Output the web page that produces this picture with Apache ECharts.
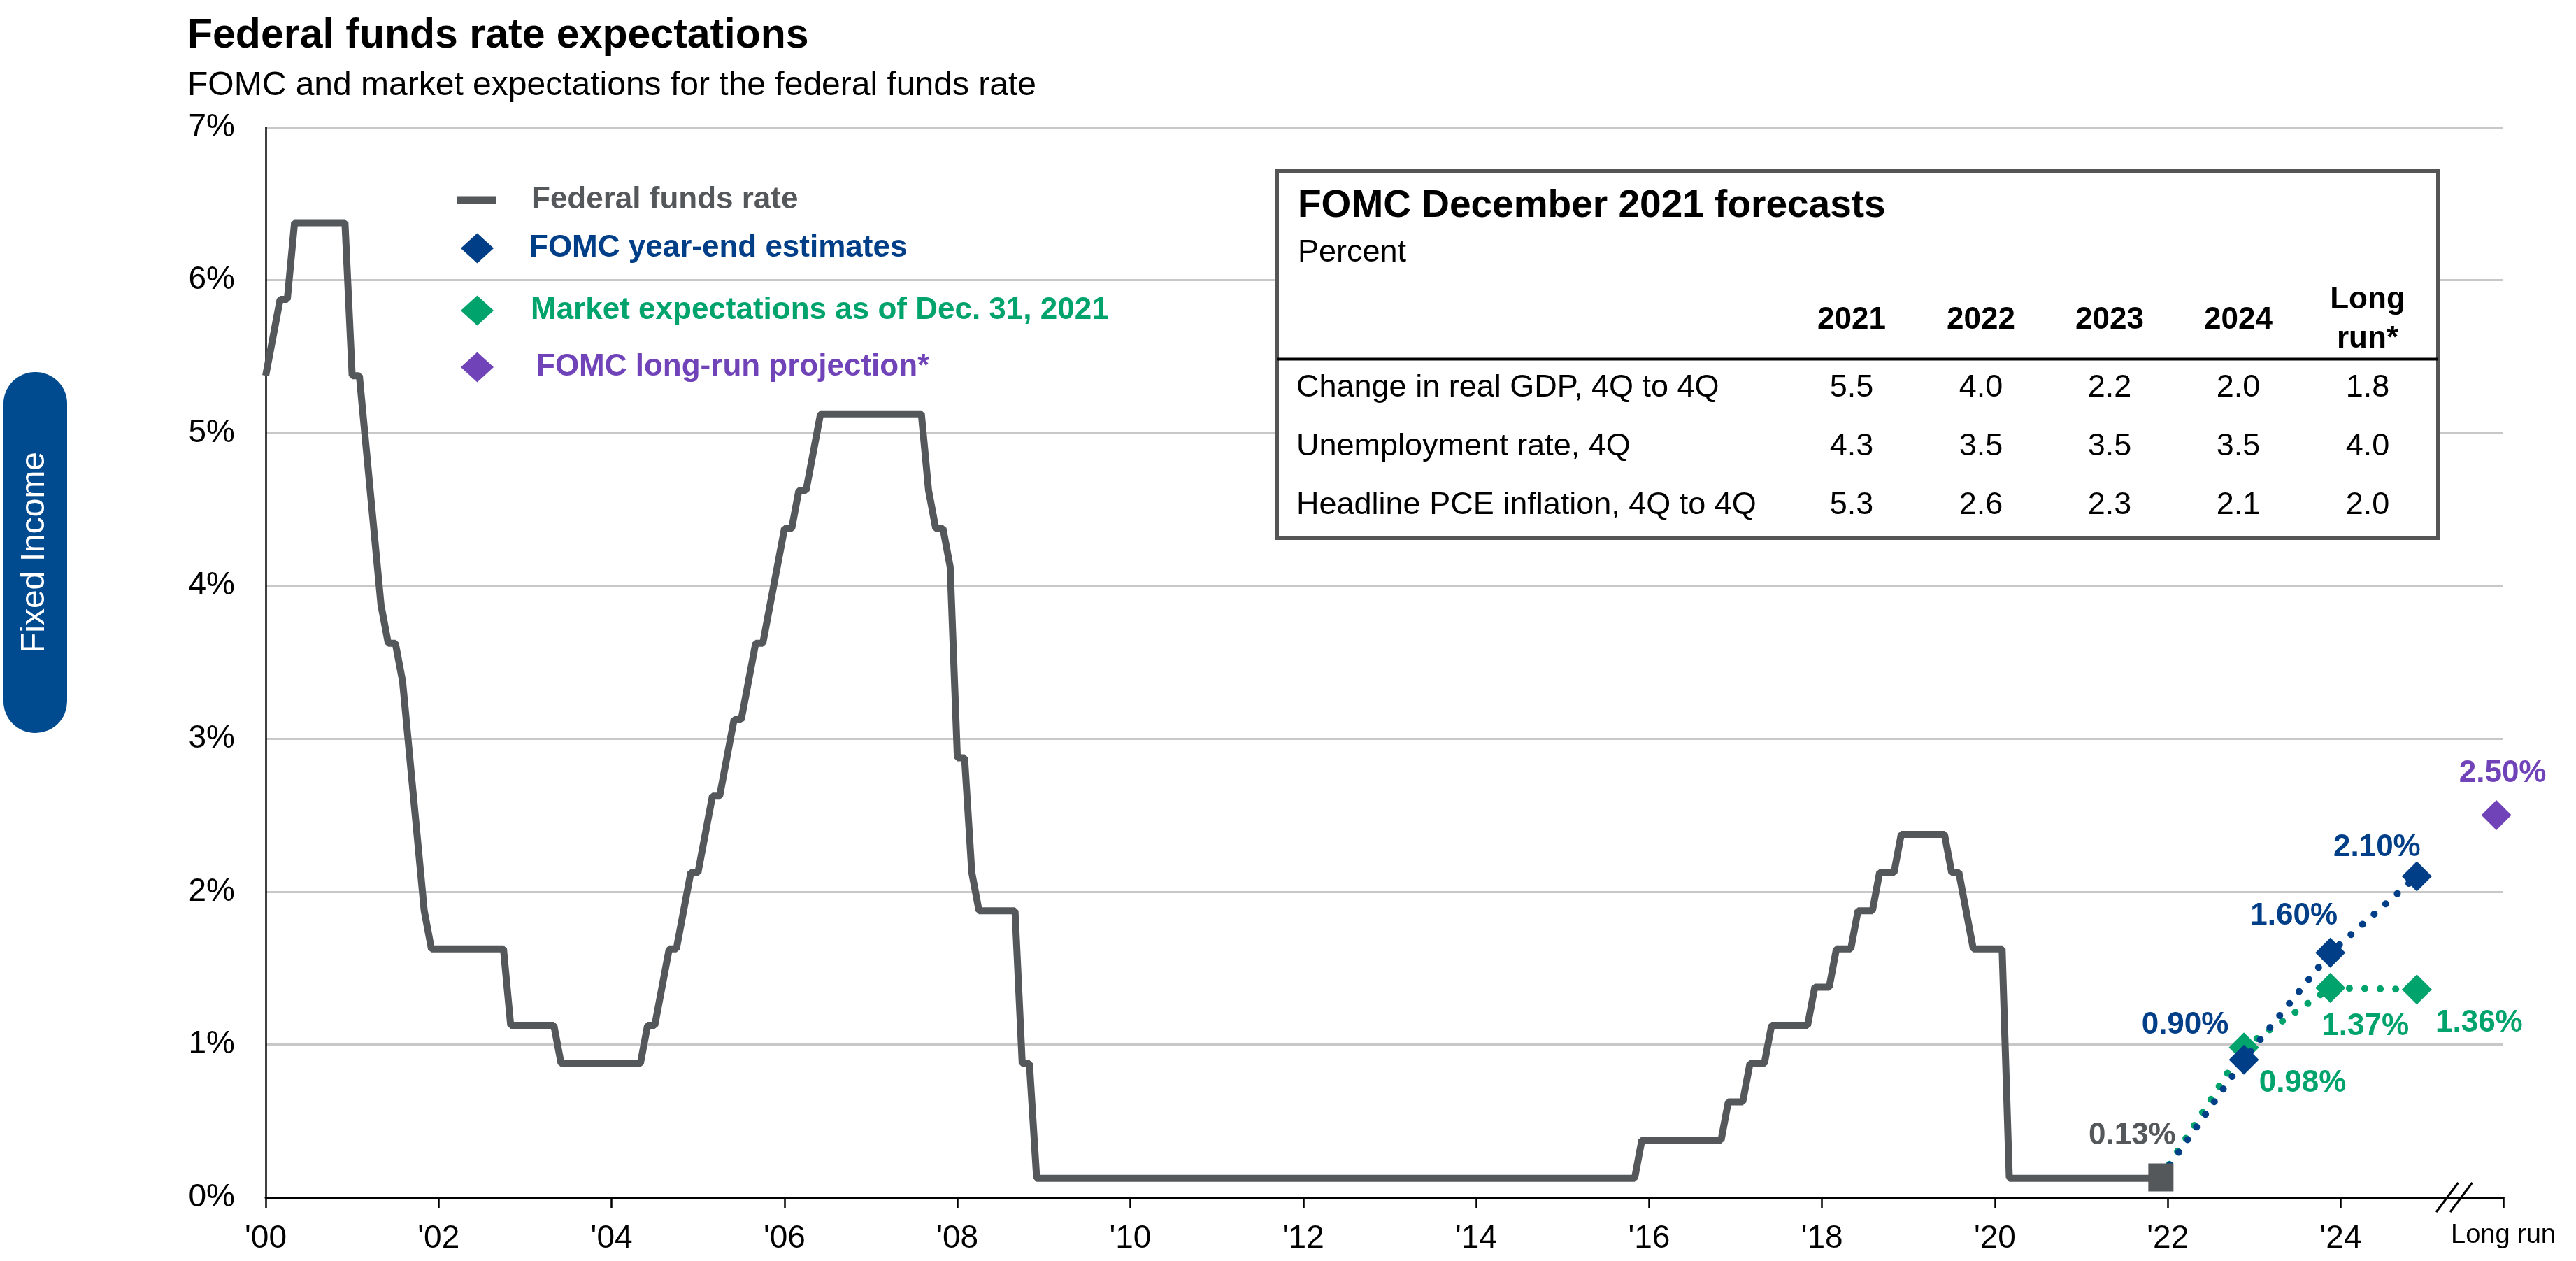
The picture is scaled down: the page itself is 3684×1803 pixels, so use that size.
<!DOCTYPE html>
<html>
<head>
<meta charset="utf-8">
<script src="https://cdn.jsdelivr.net/npm/echarts@6/dist/echarts.min.js"></script>
<style>
html,body{margin:0;padding:0;background:#ffffff;}
#chart{width:3684px;height:1803px;}
</style>
</head>
<body>
<div id="chart"></div>
<script>
// ---------------- DATA ----------------
// Federal funds rate (monthly, vertices of the path where the level changes)
const fedFundsDates = [
  '2000-01','2000-02','2000-03','2000-04','2000-05','2000-12',
  '2001-01','2001-02','2001-03','2001-04','2001-05','2001-06','2001-07','2001-08','2001-09','2001-10','2001-11','2001-12',
  '2002-10','2002-11',
  '2003-05','2003-06',
  '2004-05','2004-06','2004-07','2004-08','2004-09','2004-10','2004-11','2004-12',
  '2005-01','2005-02','2005-03','2005-04','2005-05','2005-06','2005-07','2005-08','2005-09','2005-10','2005-11','2005-12',
  '2006-01','2006-02','2006-03','2006-04','2006-05','2006-06',
  '2007-08','2007-09','2007-10','2007-11','2007-12',
  '2008-01','2008-02','2008-03','2008-04','2008-09','2008-10','2008-11','2008-12',
  '2015-11','2015-12',
  '2016-11','2016-12',
  '2017-02','2017-03','2017-05','2017-06','2017-11','2017-12',
  '2018-02','2018-03','2018-05','2018-06','2018-08','2018-09','2018-11','2018-12',
  '2019-06','2019-07','2019-08','2019-09','2019-10',
  '2020-02','2020-03',
  '2021-12'
];
const fedFundsValues = [
  5.375,5.625,5.875,5.875,6.375,6.375,
  5.375,5.375,4.875,4.375,3.875,3.625,3.625,3.375,2.875,2.375,1.875,1.625,
  1.625,1.125,
  1.125,0.875,
  0.875,1.125,1.125,1.375,1.625,1.625,1.875,2.125,
  2.125,2.375,2.625,2.625,2.875,3.125,3.125,3.375,3.625,3.625,3.875,4.125,
  4.375,4.375,4.625,4.625,4.875,5.125,
  5.125,4.625,4.375,4.375,4.125,
  2.875,2.875,2.125,1.875,1.875,0.875,0.875,0.125,
  0.125,0.375,
  0.375,0.625,
  0.625,0.875,0.875,1.125,1.125,1.375,
  1.375,1.625,1.625,1.875,1.875,2.125,2.125,2.375,
  2.375,2.125,2.125,1.875,1.625,
  1.625,0.125,
  0.125
];
// Latest federal funds rate (Dec. 2021)
const latestX = 2021.92;
const latestRate = 0.13;
// Year-end forecast positions (Dec. 2022, 2023, 2024)
const forecastX = [2022.88, 2023.88, 2024.88];
const fomcEstimates = [0.90, 1.60, 2.10];
const marketExpectations = [0.98, 1.37, 1.36];
// Long run
const longRunX = 2025.8;
const longRunProjection = 2.50;
// Axis ticks
const xTickYears = [2000,2002,2004,2006,2008,2010,2012,2014,2016,2018,2020,2022,2024];
const longRunTick = 2025.88;
const longRunLabel = 'Long run';
const xBreakAt = 2025.31;
const yMin = 0, yMax = 7, yStep = 1;
// Table
const tableTitle = 'FOMC December 2021 forecasts';
const tableUnit = 'Percent';
const tableColumns = ['2021','2022','2023','2024','Long|run*'];
const tableRowLabels = ['Change in real GDP, 4Q to 4Q','Unemployment rate, 4Q','Headline PCE inflation, 4Q to 4Q'];
const tableValues = [
  [5.5, 4.0, 2.2, 2.0, 1.8],
  [4.3, 3.5, 3.5, 3.5, 4.0],
  [5.3, 2.6, 2.3, 2.1, 2.0]
];
const names = {
  ffr: 'Federal funds rate',
  fomc: 'FOMC year-end estimates',
  market: 'Market expectations as of Dec. 31, 2021',
  longRun: 'FOMC long-run projection*'
};
const sideTab = 'Fixed Income';

// ---------------- STYLE ----------------
const FONT = '"Liberation Sans", Arial, Helvetica, sans-serif';
const C = {
  gray: '#55585b', blue: '#003f87', green: '#00a36c', purple: '#7043b8',
  tab: '#004a8f', grid: '#c8c8c8', black: '#000000', border: '#555555'
};
function toX(d) { const p = d.split('-'); return +p[0] + (+p[1] - 1) / 12; }
const pct = v => v.toFixed(2) + '%';

const fomcOffsets = [[-84, -49], [-52, -52], [-57, -41]];
const marketOffsets = [[84, 51], [50, 55], [89, 48]];

function forecastData(vals, offsets) {
  const arr = [{ value: [latestX, latestRate], symbol: 'none', label: { show: false } }];
  vals.forEach((v, i) => arr.push({ value: [forecastX[i], v], label: { show: true, offset: offsets[i] } }));
  return arr;
}
const labelBase = { fontFamily: FONT, fontSize: 44, fontWeight: 'bold', position: 'inside' };

const chart = echarts.init(document.getElementById('chart'), null, { renderer: 'canvas' });

// table graphics
const tX0 = 1826, tY0 = 244, tW = 1661, tH = 525;
const colX = [2648, 2833, 3017, 3201, 3386];
const rowBase = [570, 654, 738];
const mid = (b, s) => b - 0.35 * s;
const g = [];
g.push({ type: 'rect', id: 'tabRect', shape: { x: 5, y: 532, width: 91, height: 516, r: 45 }, style: { fill: C.tab }, z: 10 });
g.push({ type: 'text', id: 'tabText', x: 50, y: 790, rotation: Math.PI / 2,
  style: { text: sideTab, fill: '#ffffff', font: '48px ' + FONT, align: 'center', verticalAlign: 'middle' }, z: 11 });
g.push({ type: 'rect', id: 'tblBox', shape: { x: tX0, y: tY0, width: tW, height: tH }, style: { fill: '#ffffff', stroke: C.border, lineWidth: 6 }, z: 10 });
g.push({ type: 'text', id: 'tblTitle', x: 1856, y: mid(314, 55), style: { text: tableTitle, fill: C.black, font: 'bold 55px ' + FONT, align: 'left', verticalAlign: 'middle' }, z: 11 });
g.push({ type: 'text', id: 'tblUnit', x: 1856, y: mid(377, 45), style: { text: tableUnit, fill: C.black, font: '45px ' + FONT, align: 'left', verticalAlign: 'middle' }, z: 11 });
tableColumns.forEach((c, i) => {
  const parts = c.split('|');
  if (parts.length === 1) {
    g.push({ type: 'text', id: 'col' + i, x: colX[i], y: mid(473, 44), style: { text: parts[0], fill: C.black, font: 'bold 44px ' + FONT, align: 'center', verticalAlign: 'middle' }, z: 11 });
  } else {
    g.push({ type: 'text', id: 'col' + i + 'a', x: colX[i], y: mid(444, 44), style: { text: parts[0], fill: C.black, font: 'bold 44px ' + FONT, align: 'center', verticalAlign: 'middle' }, z: 11 });
    g.push({ type: 'text', id: 'col' + i + 'b', x: colX[i], y: mid(500, 44), style: { text: parts[1], fill: C.black, font: 'bold 44px ' + FONT, align: 'center', verticalAlign: 'middle' }, z: 11 });
  }
});
g.push({ type: 'line', id: 'tblSep', shape: { x1: tX0, y1: 513.5, x2: tX0 + tW, y2: 513.5 }, style: { stroke: C.black, lineWidth: 4 }, z: 11 });
tableRowLabels.forEach((r, ri) => {
  g.push({ type: 'text', id: 'row' + ri, x: 1854, y: mid(rowBase[ri], 45), style: { text: r, fill: C.black, font: '45px ' + FONT, align: 'left', verticalAlign: 'middle' }, z: 11 });
  tableValues[ri].forEach((v, ci) => {
    g.push({ type: 'text', id: 'v' + ri + '_' + ci, x: colX[ci], y: mid(rowBase[ri], 45), style: { text: v.toFixed(1), fill: C.black, font: '45px ' + FONT, align: 'center', verticalAlign: 'middle' }, z: 11 });
  });
});

function legendOf(name, color, icon, left, top, w, h, pad) {
  return {
    data: [{ name: name, icon: icon }],
    left: left, top: top, padding: 0, orient: 'vertical',
    itemWidth: w, itemHeight: h, selectedMode: false,
    itemStyle: { borderWidth: 0, opacity: 1 },
    textStyle: { color: color, fontFamily: FONT, fontSize: 44, fontWeight: 'bold', padding: [0, 0, 0, pad] }
  };
}

const option = {
  animation: false,
  backgroundColor: '#ffffff',
  title: {
    text: 'Federal funds rate expectations',
    subtext: 'FOMC and market expectations for the federal funds rate',
    left: 268, top: 22, padding: 0, itemGap: 18,
    textStyle: { fontFamily: FONT, fontSize: 59, fontWeight: 'bold', color: C.black },
    subtextStyle: { fontFamily: FONT, fontSize: 48, color: C.black }
  },
  legend: [
    legendOf(names.ffr, C.gray, 'rect', 654, 286 - 22, 56, 11, 45),
    legendOf(names.fomc, C.blue, 'diamond', 659, 355 - 22, 47, 43, 46),
    legendOf(names.market, C.green, 'diamond', 659, 444 - 22, 47, 43, 48),
    legendOf(names.longRun, C.purple, 'diamond', 659, 525 - 22, 47, 43, 56)
  ],
  grid: { left: 380, right: 104, top: 182, bottom: 91, containLabel: false, outerBoundsMode: 'none' },
  xAxis: {
    type: 'value', min: 2000, max: longRunTick,
    axisLine: { show: true, lineStyle: { color: C.black, width: 3 } },
    axisTick: { show: true, customValues: xTickYears.concat([longRunTick]), length: 15, lineStyle: { color: C.black, width: 2.5 } },
    axisLabel: {
      show: true, customValues: xTickYears.concat([longRunTick]), margin: 36,
      fontFamily: FONT, fontSize: 46, color: C.black,
      formatter: v => (Math.abs(v - longRunTick) < 1e-6 ? '{lr|' + longRunLabel + '}' : "'" + String(Math.round(v)).slice(2)),
      rich: { lr: { fontFamily: FONT, fontSize: 38, color: C.black } }
    },
    splitLine: { show: false }
  },
  yAxis: {
    type: 'value', min: yMin, max: yMax, interval: yStep,
    axisLine: { show: true, lineStyle: { color: C.black, width: 2.5 } },
    axisTick: { show: false },
    axisLabel: { formatter: '{value}%', fontFamily: FONT, fontSize: 46, color: C.black, margin: 44 },
    splitLine: { show: true, lineStyle: { color: C.grid, width: 3 } }
  },
  series: [
    {
      name: names.ffr, type: 'line', z: 2,
      data: fedFundsDates.map((d, i) => [toX(d), fedFundsValues[i]]),
      symbol: 'none', showSymbol: false,
      lineStyle: { color: C.gray, width: 10 },
      itemStyle: { color: C.gray, opacity: 1 },
      emphasis: { disabled: true }, silent: true
    },
    {
      name: names.market, type: 'line', z: 3,
      data: forecastData(marketExpectations, marketOffsets),
      symbol: 'diamond', symbolSize: [43, 43], showSymbol: true,
      lineStyle: { color: C.green, width: 10, type: [0.1, 22], cap: 'round' },
      itemStyle: { color: C.green, opacity: 1 },
      label: Object.assign({ show: true, color: C.green, formatter: p => pct(p.value[1]) }, labelBase),
      emphasis: { disabled: true }, silent: true
    },
    {
      name: names.fomc, type: 'line', z: 4,
      data: forecastData(fomcEstimates, fomcOffsets),
      symbol: 'diamond', symbolSize: [43, 43], showSymbol: true,
      lineStyle: { color: C.blue, width: 10, type: [0.1, 22], cap: 'round' },
      itemStyle: { color: C.blue, opacity: 1 },
      label: Object.assign({ show: true, color: C.blue, formatter: p => pct(p.value[1]) }, labelBase),
      emphasis: { disabled: true }, silent: true
    },
    {
      name: 'Latest federal funds rate', type: 'scatter', z: 5,
      data: [[latestX, latestRate]],
      symbol: 'rect', symbolSize: [36, 40],
      itemStyle: { color: C.gray, opacity: 1 },
      label: Object.assign({ show: true, color: C.gray, offset: [-41, -60], formatter: p => pct(p.value[1]) }, labelBase),
      emphasis: { disabled: true }, silent: true
    },
    {
      name: names.longRun, type: 'scatter', z: 5,
      data: [[longRunX, longRunProjection]],
      symbol: 'diamond', symbolSize: [43, 43],
      itemStyle: { color: C.purple, opacity: 1 },
      label: Object.assign({ show: true, color: C.purple, offset: [9, -60], formatter: p => pct(p.value[1]) }, labelBase),
      emphasis: { disabled: true }, silent: true
    }
  ],
  graphic: g
};
chart.setOption(option);

// axis break marks "//" placed at the scale position of the break
const bp = chart.convertToPixel({ gridIndex: 0 }, [xBreakAt, 0]);
chart.setOption({
  graphic: [
    { type: 'line', id: 'brk1', shape: { x1: bp[0] - 25.5, y1: bp[1] + 21, x2: bp[0] + 6, y2: bp[1] - 21 }, style: { stroke: C.black, lineWidth: 3 }, z: 12 },
    { type: 'line', id: 'brk2', shape: { x1: bp[0] - 5.5, y1: bp[1] + 21, x2: bp[0] + 26, y2: bp[1] - 21 }, style: { stroke: C.black, lineWidth: 3 }, z: 12 }
  ]
});
</script>
</body>
</html>
